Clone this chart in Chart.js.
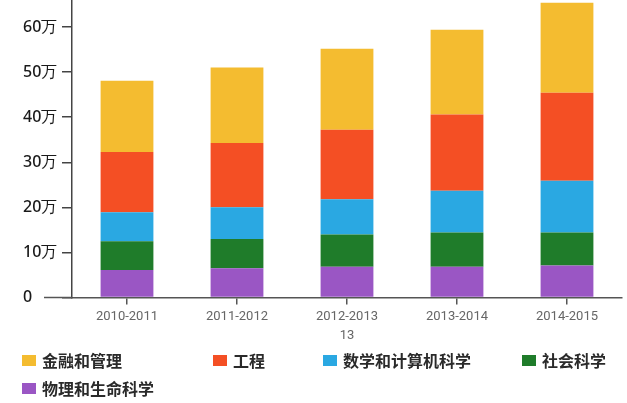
<!DOCTYPE html>
<html>
<head>
<meta charset="utf-8">
<script src="https://cdn.jsdelivr.net/npm/chart.js@4"></script>
<style>
  body { margin: 0; background: #fff; }
  #wrap { position: relative; width: 627px; height: 403px; }
  #legend { position: absolute; left: 0; top: 0; width: 627px; height: 403px; pointer-events: none; }
  .item { position: absolute; display: flex; align-items: center; font-family: "Noto Sans CJK SC", sans-serif; font-size: 16px; font-weight: bold; color: #2a2a2a; white-space: nowrap; }
  .box { width: 14px; height: 11px; margin-right: 6px; }
</style>
</head>
<body>
<div id="wrap">
  <canvas id="myChart" width="627" height="403"></canvas>
  <div id="legend"></div>
</div>
<script>
// dades (en 万)
const categories = ['2010-2011', '2011-2012', ['2012-2013', '13'], '2013-2014', '2014-2015'];
const seriesNames = ['金融和管理', '工程', '数学和计算机科学', '社会科学', '物理和生命科学'];
const finance = [15.8, 16.7, 18.0, 18.8, 20.0];
const engineering = [13.4, 14.3, 15.4, 16.9, 19.5];
const mathCs = [6.4, 7.0, 7.8, 9.3, 11.5];
const social = [6.4, 6.5, 7.2, 7.6, 7.3];
const physLife = [6.1, 6.5, 6.8, 6.8, 7.1];
const yTicks = [0, 10, 20, 30, 40, 50, 60];

const colors = ['#F4BC30', '#F44F24', '#2AA8E2', '#1F7C2A', '#9A56C4'];
const seriesData = [finance, engineering, mathCs, social, physLife];

// posicions de la llegenda (left, top centre)
const legendPos = [[22, 360], [213, 360], [323, 360], [522, 360], [22, 388]];

// la primera serie queda a dalt, per això s'inverteix l'ordre
const datasets = seriesNames.map((name, i) => ({
    label: name,
    data: seriesData[i],
    backgroundColor: colors[i],
    borderWidth: 0,
    barPercentage: 0.48,
    categoryPercentage: 1
})).reverse();

// allarga l'eix x cap a l'esquerra
const axisExtend = {
    id: 'axisExtend',
    afterDraw(chart) {
        const ctx = chart.ctx;
        const a = chart.chartArea;
        ctx.save();
        ctx.strokeStyle = '#555';
        ctx.lineWidth = 1.5;
        ctx.beginPath();
        ctx.moveTo(44, a.bottom);
        ctx.lineTo(a.left, a.bottom);
        ctx.stroke();
        ctx.restore();
    }
};

const ctx = document.getElementById('myChart').getContext('2d');
new Chart(ctx, {
    type: 'bar',
    data: { labels: categories, datasets: datasets },
    plugins: [axisExtend],
    options: {
        responsive: false,
        animation: false,
        layout: { padding: { left: 23, right: 5, top: 0, bottom: 0 } },
        plugins: { legend: { display: false }, tooltip: { enabled: false } },
        scales: {
            x: {
                stacked: true,
                grid: { offset: false, drawOnChartArea: false, tickLength: 7, color: '#555', lineWidth: 1.5 },
                border: { display: true, color: '#555', width: 1.5 },
                ticks: { color: '#666', padding: 3, font: { family: 'Roboto', size: 13, lineHeight: 1.45 }, maxRotation: 0 },
                afterFit(scale) { scale.height = 105.5; }
            },
            y: {
                stacked: true,
                min: 0,
                max: 66,
                afterBuildTicks(scale) { scale.ticks = yTicks.map(v => ({ value: v })); },
                grid: { drawOnChartArea: false, tickLength: 10, color: '#444', lineWidth: 1.5 },
                border: { display: true, color: '#444', width: 1.5 },
                ticks: {
                    crossAlign: 'far',
                    color: '#1a1a1a',
                    font: { family: 'Noto Sans', size: 16, weight: '500' },
                    callback: v => v === 0 ? '0' : v + '万'
                },
                afterFit(scale) {
                    scale.width = 49;
                    scale.paddingTop = 0;
                    scale.paddingBottom = 0;
                }
            }
        }
    }
});

// llegenda HTML
const legend = document.getElementById('legend');
seriesNames.forEach((name, i) => {
    const el = document.createElement('div');
    el.className = 'item';
    el.style.left = legendPos[i][0] + 'px';
    el.style.top = (legendPos[i][1] - 11) + 'px';
    el.style.height = '22px';
    el.innerHTML = '<span class="box" style="background:' + colors[i] + '"></span>' + name;
    legend.appendChild(el);
});
</script>
</body>
</html>
